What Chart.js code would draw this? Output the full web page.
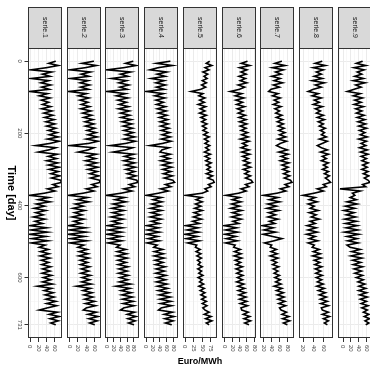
<!DOCTYPE html>
<html lang="en">
<head>
<meta charset="UTF-8">
<title>Daily prices by serie</title>
<script src="https://cdn.jsdelivr.net/npm/chart.js"></script>
<style>
  html, body { margin: 0; padding: 0; background: #fff; overflow: hidden; }
  #page { position: relative; width: 370px; height: 370px; overflow: hidden; }
  /* facets are laid out as stacked rows, then the whole block is turned a quarter clockwise */
  #fig { position: absolute; left: 0; top: 0; width: 370px; height: 370px; transform: rotate(90deg); }
  #fig canvas { position: absolute; left: 0; }
  #valueTitle {
    position: absolute; left: 28px; width: 344px; top: 356px; height: 12px; line-height: 12px;
    text-align: center; font: bold 9px "Liberation Sans", Arial, sans-serif; color: #000;
  }
</style>
</head>
<body>
<div id="page">
  <div id="fig"></div>
  <div id="valueTitle">Euro/MWh</div>
</div>
<script>
// day index of each sample
const days = [0,6,12,18,24,30,36,42,48,54,60,66,72,78,84,90,96,102,108,114,120,126,132,138,144,150,156,162,168,174,
  180,186,192,198,204,210,216,222,228,234,240,246,252,258,264,270,276,282,288,294,300,306,312,318,324,330,336,342,348,354,
  360,366,372,378,384,390,396,402,408,414,420,426,432,438,444,450,456,462,468,474,480,486,492,498,504,510,516,522,528,534,
  540,546,552,558,564,570,576,582,588,594,600,606,612,618,624,630,636,642,648,654,660,666,672,678,684,690,696,702,708,714,
  720,726,731];

// Euro/MWh per serie
const serie1 = [62,45,68,40,2,52,30,48,3,45, 26,50,28,46,-1,42,22,48,27,45, 30,50,28,53,33,55,35,58,38,60,
  40,62,44,65,46,68,42,70,48,14, 62,45,20,66,44,64,40,67,44,70, 46,68,50,72,52,74,76,55,68,42,
  60,35,-1,45,20,48,15,35,10,38, 14,32,8,36,12,30,0,40,2,42, -1,38,4,43,3,36,22,44,25,46,
  24,48,27,45,28,50,30,48,29,52, 32,50,30,54,18,52,34,56,36,58, 38,62,40,64,42,22,66,46,70,48, 68,50,62];
const serie2 = [58,30,64,38,1,50,28,46,2,44, 25,48,26,45,-2,40,21,46,25,44, 28,48,27,51,31,53,34,56,37,58,
  38,60,42,63,44,66,40,68,46,1, 58,44,21,64,42,62,38,65,42,68, 44,66,48,70,50,71,73,53,66,40,
  58,33,-2,43,18,46,14,33,8,36, 12,30,6,34,10,28,-2,38,0,40, -3,36,2,41,1,34,20,42,23,44,
  22,46,25,43,26,48,28,46,27,50, 30,48,29,52,17,50,32,54,34,56, 36,60,38,62,40,33,64,44,68,46, 66,48,60];
const serie3 = [78,55,86,50,0,70,40,62,13,58, 35,65,38,60,0,55,28,62,32,58, 36,64,34,66,40,68,42,72,45,74,
  48,76,50,78,54,82,50,84,56,10, 76,55,18,80,52,78,50,82,54,84, 56,82,60,86,62,88,92,66,82,50,
  74,42,-2,52,24,56,18,46,14,50, 16,44,12,48,15,40,2,46,4,43, 0,42,6,44,3,38,28,56,30,58,
  29,60,32,57,33,62,35,60,34,63, 38,62,36,70,27,68,42,72,44,76, 46,78,48,80,50,40,82,60,86,62, 84,64,80];
const serie4 = [70,30,76,35,11,60,32,55,15,52, 28,56,30,52,1,50,25,54,28,50, 30,56,32,58,35,60,38,62,40,64,
  42,66,44,68,46,70,44,72,48,11, 66,46,40,70,45,68,42,72,46,74, 48,72,50,76,52,77,82,56,72,42,
  64,36,1,44,20,46,16,42,12,45, 14,40,12,44,15,38,2,36,4,39, 1,34,6,38,3,32,22,48,24,50,
  23,52,26,49,27,55,29,53,28,57, 31,56,30,60,33,62,35,66,38,70, 40,72,42,74,44,36,76,52,80,54, 78,56,74];
const serie5 = [72,62,78,58,70,52,66,55,64,50, 62,48,60,46,18,52,40,58,42,56, 38,60,44,58,42,62,46,60,48,64,
  50,62,52,66,54,70,56,68,58,72, 60,70,56,74,58,72,60,76,62,74, 64,78,62,80,66,82,85,68,76,58,
  66,50,3,48,32,50,30,46,28,50, 26,44,24,48,22,42,2,38,6,40, 0,36,4,42,8,34,30,44,32,46,
  34,48,36,45,38,50,37,48,40,52, 38,50,42,54,40,56,44,58,46,60, 48,62,50,64,52,58,70,56,76,60, 78,62,70];
const serie6 = [62,45,68,40,60,44,58,38,56,42, 60,36,54,40,15,46,28,52,30,48, 32,54,34,50,36,56,38,58,40,60,
  42,58,44,62,46,64,42,66,48,60, 44,66,46,68,48,64,50,68,52,70, 50,66,54,70,56,72,76,56,66,44,
  58,38,3,40,20,44,18,40,16,46, 20,42,18,45,22,38,-2,32,2,35, 0,30,4,34,2,28,24,42,26,44,
  25,46,28,43,30,48,30,46,32,49, 34,48,32,52,35,54,36,56,38,58, 40,60,42,62,44,46,64,50,68,52, 70,54,66];
const serie7 = [66,48,74,42,70,50,64,40,62,46, 68,44,60,38,32,56,42,62,46,58, 44,64,48,60,50,66,52,68,54,70,
  56,72,58,74,60,76,56,78,62,52, 64,80,58,82,64,80,62,84,66,82, 68,84,70,86,72,88,92,74,84,62,
  76,54,19,56,34,60,30,52,28,58, 32,50,30,56,34,48,16,44,20,50, 18,42,66,46,22,40,36,52,38,54,
  36,56,40,53,42,58,44,56,46,60, 48,62,50,64,46,66,52,70,54,72, 56,74,58,76,60,64,78,66,84,68, 86,70,80];
const serie8 = [58,44,64,40,60,46,56,42,58,38, 62,44,56,40,30,50,38,56,42,52, 40,58,44,54,46,60,48,62,50,60,
  52,64,54,62,56,66,52,68,58,48, 56,68,54,70,58,66,56,70,60,68, 58,70,62,72,64,70,74,60,66,48,
  60,42,20,44,32,48,30,42,34,50, 32,46,36,52,34,44,28,46,30,48, 27,44,32,49,30,42,38,52,40,54,
  39,56,42,53,43,57,44,55,45,58, 46,57,48,60,47,62,50,64,52,66, 54,68,55,70,56,58,70,58,72,60, 70,62,68];
const serie9 = [50,34,58,28,54,36,48,30,52,26, 56,32,46,28,11,44,26,50,30,46, 28,52,32,48,34,54,36,56,38,58,
  40,60,42,56,44,62,40,60,46,58, 42,62,44,64,46,60,48,64,50,62, 48,64,52,66,54,64,69,50,58,-8,
  44,24,30,18,34,10,36,6,30,2, 28,8,32,4,34,6,36,8,38,4, 40,10,36,12,38,10,18,44,22,46,
  20,48,24,45,26,50,28,47,30,50, 34,52,38,56,40,58,40,60,42,62, 44,60,46,64,48,62,52,66,54,68, 56,66,58];

const serieNames = ['serie.1','serie.2','serie.3','serie.4','serie.5','serie.6','serie.7','serie.8','serie.9'];
const serieValues = [serie1, serie2, serie3, serie4, serie5, serie6, serie7, serie8, serie9];

// free value scale per facet
const valueLimits = [[-5,77],[-6,75],[-6,95],[-6,92],[-6,93],[-8,85],[10,97],[12,79],[-13,74]];
const valueBreaks = [[0,20,40,60],[0,20,40,60],[0,20,40,60,80],[0,20,40,60,80],[0,25,50,75],
  [0,20,40,60,80],[20,40,60,80],[20,40,60],[0,20,40,60]];

const timeBreaks = [0, 200, 400, 600, 731];
const timeLimits = [-36.55, 767.55];

const FONT = '"Liberation Sans", Arial, sans-serif';
const GRID_MAJOR = '#EBEBEB';
const GRID_MINOR = '#F4F4F4';
const DARK = '#333333';

// major breaks plus the half-way minor breaks that fall inside the limits
function withMinors(breaks, lim) {
  const ticks = breaks.map(v => ({ value: v }));
  for (let i = 0; i < breaks.length - 1; i++) {
    ticks.push({ value: (breaks[i] + breaks[i + 1]) / 2, minor: true });
  }
  const step = breaks[1] - breaks[0];
  const lo = breaks[0] - step / 2, hi = breaks[breaks.length - 1] + step / 2;
  if (lo > lim[0]) ticks.push({ value: lo, minor: true });
  if (hi < lim[1] && breaks[breaks.length - 1] % step === 0) ticks.push({ value: hi, minor: true });
  return ticks.sort((a, b) => a.value - b.value);
}

const gridColor = c => (c.tick && c.tick.minor ? GRID_MINOR : GRID_MAJOR);
const gridWidth = c => (c.tick && c.tick.minor ? 0.6 : 1);
const markColor = c => (c.tick && c.tick.minor ? 'rgba(0,0,0,0)' : DARK);

// grey strip with the serie name on the left, dark frame round the panel
const facetFrame = {
  id: 'facetFrame',
  afterDraw(chart, args, opts) {
    const { ctx, chartArea: a } = chart;
    const h = a.bottom - a.top;
    ctx.save();
    ctx.fillStyle = '#D9D9D9';
    ctx.fillRect(7, a.top, a.left - 7, h);
    ctx.strokeStyle = DARK;
    ctx.lineWidth = 1;
    ctx.strokeRect(7.5, a.top + 0.5, a.left - 7, h - 1);
    ctx.strokeRect(a.left + 0.5, a.top + 0.5, a.right - a.left - 1, h - 1);
    ctx.fillStyle = '#1A1A1A';
    ctx.font = '7px ' + FONT;
    ctx.textAlign = 'center';
    ctx.textBaseline = 'middle';
    ctx.fillText(opts.label, (7 + a.left) / 2, (a.top + a.bottom) / 2);
    ctx.restore();
  }
};

const fig = document.getElementById('fig');

serieValues.forEach((values, k) => {
  const withTimeAxis = k === 0;
  const canvas = document.createElement('canvas');
  canvas.width = 370;
  canvas.height = withTimeAxis ? 64 : 38;
  canvas.style.top = (Math.round(308 - 38.75 * k) - 2) + 'px';
  fig.appendChild(canvas);

  const lim = valueLimits[k];

  new Chart(canvas, {
    type: 'line',
    data: {
      datasets: [{
        data: values.map((v, i) => ({ x: days[i], y: v })),
        borderColor: '#000',
        borderWidth: 1.6,
        borderJoinStyle: 'miter',
        pointRadius: 0,
        tension: 0
      }]
    },
    plugins: [facetFrame],
    options: {
      responsive: false,
      devicePixelRatio: 1,
      animation: false,
      events: [],
      layout: { padding: { left: 48, right: 0, top: 2, bottom: withTimeAxis ? 0 : 2 } },
      plugins: {
        legend: { display: false },
        tooltip: { enabled: false },
        facetFrame: { label: serieNames[k] }
      },
      scales: {
        x: {
          type: 'linear',
          min: timeLimits[0],
          max: timeLimits[1],
          afterBuildTicks: s => { s.ticks = withMinors(timeBreaks, timeLimits); },
          afterFit: s => {
            s.height = withTimeAxis ? 28 : 0;
            s.paddingLeft = 0; s.paddingRight = 0;
          },
          border: { display: false },
          grid: {
            color: gridColor,
            lineWidth: gridWidth,
            drawTicks: withTimeAxis,
            tickLength: 3.5,
            tickColor: markColor,
            tickWidth: 1
          },
          ticks: {
            display: withTimeAxis,
            autoSkip: false,
            maxRotation: 0,
            padding: 1.5,
            color: '#4D4D4D',
            font: { family: FONT, size: 6 },
            callback: (v, i, ticks) => (ticks[i].minor ? '' : String(v))
          },
          title: {
            display: withTimeAxis,
            text: 'Time [day]',
            color: '#000',
            font: { family: FONT, size: 11, weight: 'bold' },
            padding: { top: 0, bottom: 4 }
          }
        },
        y: {
          type: 'linear',
          position: 'right',
          min: lim[0],
          max: lim[1],
          afterBuildTicks: s => { s.ticks = withMinors(valueBreaks[k], lim); },
          afterFit: s => {
            s.width = 32;
            s.paddingTop = 0; s.paddingBottom = 0;
          },
          border: { display: false },
          grid: {
            color: gridColor,
            lineWidth: gridWidth,
            tickLength: 4,
            tickColor: markColor,
            tickWidth: 1
          },
          ticks: {
            autoSkip: false,
            padding: 3,
            color: '#4D4D4D',
            font: { family: FONT, size: 6 },
            callback: (v, i, ticks) => (ticks[i].minor ? '' : String(v))
          }
        }
      }
    }
  });
});
</script>
</body>
</html>
